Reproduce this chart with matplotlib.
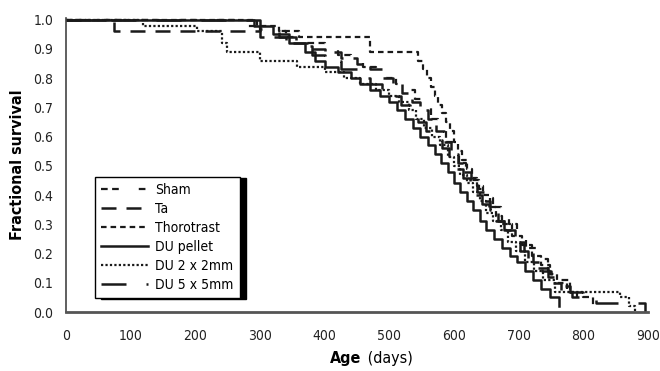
import matplotlib
matplotlib.use("Agg")
import matplotlib.pyplot as plt
from matplotlib import font_manager

names = {f.name for f in font_manager.fontManager.ttflist}
cond = [f for f in font_manager.fontManager.ttflist if 'ondensed' in f.fname or 'Narrow' in f.name]
print(sorted(names))
print([(f.name, f.stretch, f.fname) for f in cond][:20])

plt.rcParams['font.family'] = ['DejaVu Sans']
plt.rcParams['font.stretch'] = 'condensed'

# ---- data (Kaplan-Meier step curves: time of event, survival after event) ----
labels = ["Sham", "Ta", "Thorotrast", "DU pellet", "DU 2 x 2mm", "DU 5 x 5mm"]

sham_t = [0, 270, 300, 340, 370, 400, 420, 440, 460, 480, 495, 510, 525, 540, 552, 564, 576, 588,
          598, 608, 618, 628, 638, 648, 660, 672, 685, 698, 712, 728, 745, 760, 780, 800, 815]
sham_s = [1.0, 0.98, 0.96, 0.94, 0.92, 0.90, 0.88, 0.86, 0.84, 0.82, 0.80, 0.78, 0.76, 0.73, 0.70,
          0.66, 0.62, 0.58, 0.54, 0.51, 0.48, 0.45, 0.42, 0.39, 0.36, 0.33, 0.30, 0.26, 0.22, 0.18,
          0.14, 0.11, 0.08, 0.05, 0.02]

ta_t = [0, 74, 300, 340, 375, 400, 425, 450, 470, 490, 505, 520, 535, 548, 560, 572, 584, 596, 606,
        616, 626, 636, 646, 656, 668, 680, 694, 708, 722, 736, 750, 765, 782, 800]
ta_s = [1.0, 0.96, 0.94, 0.92, 0.90, 0.89, 0.87, 0.85, 0.83, 0.80, 0.78, 0.75, 0.72, 0.69, 0.66,
        0.62, 0.58, 0.54, 0.51, 0.48, 0.45, 0.41, 0.38, 0.35, 0.31, 0.28, 0.24, 0.21, 0.17, 0.14,
        0.10, 0.07, 0.05, 0.03]

thoro_t = [0, 295, 330, 360, 470, 545, 552, 558, 565, 570, 576, 582, 588, 594, 600, 606, 612, 620,
           628, 636, 645, 655, 665, 675, 690, 705, 720, 735, 748, 760, 775, 790]
thoro_s = [1.0, 0.98, 0.96, 0.94, 0.89, 0.86, 0.83, 0.80, 0.77, 0.74, 0.71, 0.68, 0.65, 0.62, 0.58,
           0.55, 0.52, 0.49, 0.46, 0.43, 0.40, 0.36, 0.33, 0.30, 0.26, 0.23, 0.19, 0.16, 0.13, 0.10,
           0.07, 0.05]

pellet_t = [0, 290, 320, 345, 370, 385, 400, 420, 440, 455, 470, 485, 500, 512, 524, 536, 548, 560,
            570, 580, 590, 600, 610, 620, 630, 640, 650, 662, 674, 686, 698, 710, 722, 735, 748, 762]
pellet_s = [1.0, 0.98, 0.95, 0.92, 0.89, 0.86, 0.84, 0.82, 0.80, 0.78, 0.76, 0.74, 0.72, 0.69, 0.66,
            0.63, 0.60, 0.57, 0.54, 0.51, 0.48, 0.44, 0.41, 0.38, 0.35, 0.31, 0.28, 0.25, 0.22, 0.19,
            0.17, 0.14, 0.11, 0.08, 0.05, 0.02]

du2_t = [0, 119, 202, 241, 249, 300, 357, 400, 430, 455, 480, 500, 515, 530, 542, 554, 566, 578, 590,
         600, 610, 620, 630, 640, 650, 660, 672, 684, 696, 710, 724, 738, 756, 857, 870, 880]
du2_s = [1.0, 0.98, 0.96, 0.92, 0.89, 0.86, 0.84, 0.82, 0.80, 0.78, 0.76, 0.74, 0.72, 0.69, 0.66,
         0.63, 0.60, 0.57, 0.53, 0.50, 0.47, 0.44, 0.41, 0.38, 0.34, 0.31, 0.28, 0.24, 0.21, 0.17,
         0.14, 0.11, 0.07, 0.05, 0.02, 0.0]

du5_t = [0, 300, 330, 355, 380, 400, 425, 450, 470, 488, 503, 518, 532, 545, 557, 569, 581, 593, 604,
         614, 624, 634, 644, 654, 665, 677, 690, 702, 715, 730, 745, 760, 780, 800, 820, 895]
du5_s = [1.0, 0.97, 0.94, 0.91, 0.88, 0.86, 0.83, 0.80, 0.78, 0.76, 0.74, 0.71, 0.68, 0.65, 0.62,
         0.59, 0.56, 0.52, 0.49, 0.46, 0.43, 0.40, 0.37, 0.34, 0.31, 0.28, 0.24, 0.21, 0.18, 0.15,
         0.12, 0.09, 0.07, 0.05, 0.03, 0.0]

x_ticks = [0, 100, 200, 300, 400, 500, 600, 700, 800, 900]
y_ticks = [0.0, 0.1, 0.2, 0.3, 0.4, 0.5, 0.6, 0.7, 0.8, 0.9, 1.0]

series = [
    (sham_t, sham_s, dict(linestyle=(0, (3, 2, 3, 9)), linewidth=1.6)),
    (ta_t, ta_s, dict(linestyle=(0, (6, 4)), linewidth=1.8)),
    (thoro_t, thoro_s, dict(linestyle=(0, (2.5, 1.8)), linewidth=1.6)),
    (pellet_t, pellet_s, dict(linestyle='-', linewidth=1.8)),
    (du2_t, du2_s, dict(linestyle=(0, (1, 1)), linewidth=1.6)),
    (du5_t, du5_s, dict(linestyle=(0, (10, 8)), linewidth=1.8)),
]

fig = plt.figure(figsize=(6.6, 3.71), dpi=100)
ax = fig.add_axes([66 / 660, 1 - 312 / 371, (648 - 66) / 660, (312 - 18) / 371])

for (t, s, style), lab in zip(series, labels):
    ax.step(t, s, where='post', color='#1a1a1a', label=lab, **style)

ax.set_xlim(0, 900)
ax.set_ylim(0, 1.006)
ax.set_xticks(x_ticks)
ax.set_xticklabels([str(v) for v in x_ticks])
ax.set_yticks(y_ticks)
ax.set_yticklabels([f"{v:.1f}" for v in y_ticks])
ax.tick_params(length=0, labelsize=10, colors='#222222')
ax.tick_params(axis='x', pad=12)
ax.tick_params(axis='y', pad=9)
for sp in ['top', 'right']:
    ax.spines[sp].set_visible(False)
ax.spines['left'].set_color('#444444')
ax.spines['left'].set_linewidth(1.2)
ax.spines['bottom'].set_color('#555555')
ax.spines['bottom'].set_linewidth(2.0)

fig.text(18 / 660, 1 - 165 / 371, "Fractional survival", fontsize=11.5, fontweight='bold',
         rotation=90, ha='center', va='center')
fig.text(361 / 660, 1 - 358 / 371, "Age", fontsize=11.5, fontweight='bold', ha='right', va='center')
fig.text(363 / 660, 1 - 358 / 371, " (days)", fontsize=11.5, ha='left', va='center')

leg = ax.legend(loc='upper left', bbox_to_anchor=(95 / 660, 1 - 177 / 371),
                bbox_transform=fig.transFigure, borderaxespad=0, fancybox=False,
                edgecolor='black', framealpha=1, fontsize=10, handlelength=3.4,
                handletextpad=0.5, labelspacing=0.35, borderpad=0.45,
                shadow={'color': 'black', 'alpha': 1, 'ox': 4, 'oy': -1})
leg.get_frame().set_linewidth(1.0)

fig.savefig("out.png", dpi=100)
